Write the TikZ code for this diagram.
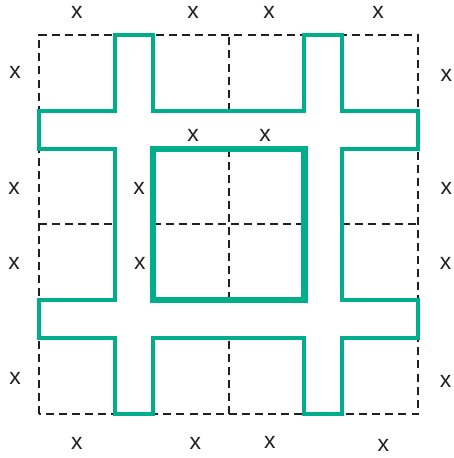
\documentclass[tikz,border=0pt]{standalone}
\usepackage{fontspec}
\setmainfont{Liberation Sans}
\definecolor{teal}{RGB}{0,174,140}
\definecolor{ink}{RGB}{35,31,32}
\tikzset{
  grid/.style={draw=ink, line width=0.75pt, dash pattern=on 3pt off 1.9pt},
  cutline/.style={draw=teal, line width=1.5pt, line join=miter},
  boxline/.style={draw=teal, line width=2.3pt, line join=miter},
  lbl/.style={inner sep=0pt, text=ink, font=\fontsize{8.6}{10}\selectfont}
}
\begin{document}
\begin{tikzpicture}[x=0.5cm, y=0.5cm]
\useasboundingbox (-1.03,-1.16) rectangle (10.92,10.92);
% dashed grid
\draw[grid] (0,0) rectangle (10,10);
\draw[grid] (5,0) -- (5,2) (5,3) -- (5,7) (5,8) -- (5,10);
\draw[grid] (0,5) -- (2,5) (3,5) -- (7,5) (8,5) -- (10,5);
% cut outline
\draw[cutline] (2,10) -- (3,10) -- (3,8) -- (7,8) -- (7,10) -- (8,10) -- (8,8)
  -- (10,8) -- (10,7) -- (8,7) -- (8,3) -- (10,3) -- (10,2) -- (8,2) -- (8,0)
  -- (7,0) -- (7,2) -- (3,2) -- (3,0) -- (2,0) -- (2,2) -- (0,2) -- (0,3)
  -- (2,3) -- (2,7) -- (0,7) -- (0,8) -- (2,8) -- cycle;
% inner box
\draw[boxline] (3,3) rectangle (7,7);
% labels
\node[lbl] (t1) at (1.0,10.58) {x};
\node[lbl] (t2) at (4.06,10.58) {x};
\node[lbl] (t3) at (6.07,10.58) {x};
\node[lbl] (t4) at (8.94,10.58) {x};
\node[lbl] (l1) at (-0.63,9.0) {x};
\node[lbl] (l2) at (-0.66,5.96) {x};
\node[lbl] (l3) at (-0.66,3.96) {x};
\node[lbl] (l4) at (-0.63,0.95) {x};
\node[lbl] (r1) at (10.74,8.94) {x};
\node[lbl] (r2) at (10.74,5.96) {x};
\node[lbl] (r3) at (10.72,3.96) {x};
\node[lbl] (r4) at (10.72,0.87) {x};
\node[lbl] (b1) at (1.0,-0.77) {x};
\node[lbl] (b2) at (4.12,-0.77) {x};
\node[lbl] (b3) at (6.09,-0.74) {x};
\node[lbl] (b4) at (9.08,-0.82) {x};
\node[lbl] (i1) at (4.06,7.36) {x};
\node[lbl] (i2) at (5.96,7.36) {x};
\node[lbl] (i3) at (2.64,5.96) {x};
\node[lbl] (i4) at (2.66,3.96) {x};
\end{tikzpicture}
\end{document}
